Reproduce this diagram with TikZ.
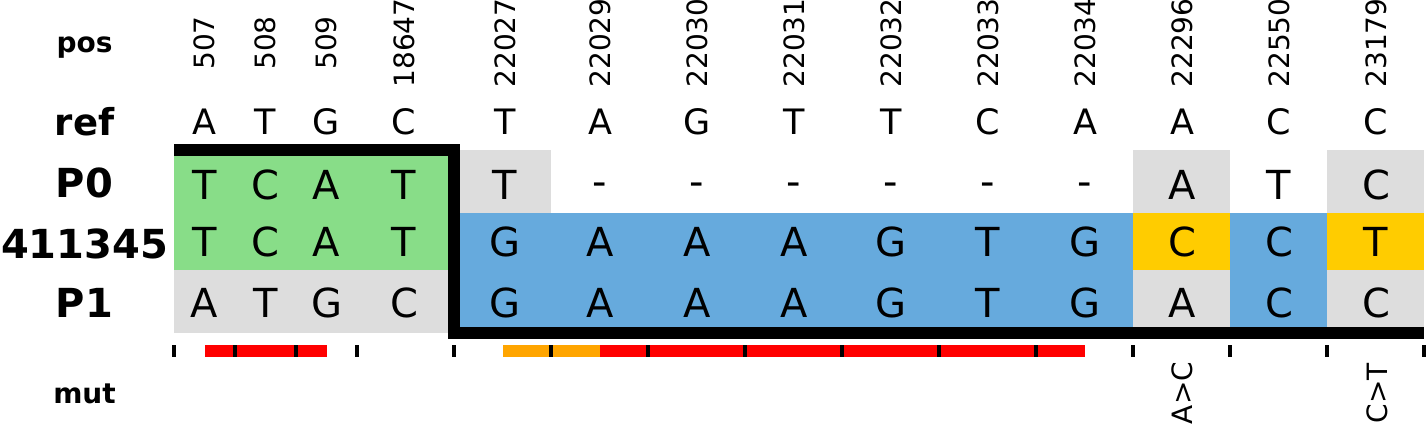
\documentclass[tikz,border=0pt]{standalone}
\usepackage{fontspec}
\setmainfont{DejaVu Sans}
\definecolor{cgreen}{RGB}{136,221,136}
\definecolor{cgrey}{RGB}{221,221,221}
\definecolor{cblue}{RGB}{102,170,221}
\definecolor{cyellow}{RGB}{255,204,0}
\definecolor{corange}{RGB}{255,165,0}
\definecolor{cred}{RGB}{255,0,0}
\newcommand{\gapdash}{\raisebox{4pt}{-}}
\begin{document}
\begin{tikzpicture}[x=1pt,y=-1pt,
  rowlabel/.style={font=\fontsize{40}{40}\selectfont\bfseries, anchor=base, inner sep=0pt},
  hdlabel/.style={font=\fontsize{28}{28}\selectfont\bfseries, anchor=base, inner sep=0pt},
  reflet/.style={font=\fontsize{35}{35}\selectfont, anchor=base, inner sep=0pt},
  celllet/.style={font=\fontsize{40}{40}\selectfont, anchor=base, inner sep=0pt},
  poslabel/.style={font=\fontsize{28}{28}\selectfont, rotate=90, anchor=center, inner sep=0pt},
  mutlabel/.style={font=\fontsize{28}{28}\selectfont, rotate=90, anchor=center, inner sep=0pt},
  sepmark/.style={fill=black},
  outline/.style={draw=black, line width=12pt, line join=miter}
]
\useasboundingbox (0,0) rectangle (1426,423);

% cell fills
\fill[cgreen] (174,150) rectangle (454,270);
\fill[cgrey]  (174,270) rectangle (454,333);
\fill[cgrey]  (454,150) rectangle (551,213);
\fill[cblue]  (454,213) rectangle (1133,333);
\fill[cgrey]  (1133,150) rectangle (1230,213);
\fill[cyellow](1133,213) rectangle (1230,269.5);
\fill[cgrey]  (1133,269.5) rectangle (1230,333);
\fill[cblue]  (1230,213) rectangle (1327,333);
\fill[cgrey]  (1327,150) rectangle (1424,213);
\fill[cyellow](1327,213) rectangle (1424,269.5);
\fill[cgrey]  (1327,269.5) rectangle (1424,333);

% thick outline
\coordinate (o1) at (174,150);
\coordinate (o2) at (454,150);
\coordinate (o3) at (454,333);
\coordinate (o4) at (1424,333);
\draw[outline] (o1) -- (o2) -- (o3) -- (o4);

% row labels
\node[hdlabel]  (lpos) at (84.5,52.5) {pos};
\node[rowlabel, font=\fontsize{37}{37}\selectfont\bfseries] (lref) at (84.5,135) {ref};
\node[rowlabel] (lp0)  at (84.5,197) {P0};
\node[rowlabel] (lch)  at (84.5,258) {411345};
\node[rowlabel] (lp1)  at (84.5,317) {P1};
\node[hdlabel]  (lmut) at (84.5,403) {mut};

% columns
\foreach \x/\p/\r/\a/\b/\c [count=\i] in {
  204.5/507/A/T/T/A,
  265.5/508/T/C/C/T,
  326.5/509/G/A/A/G,
  404/18647/C/T/T/C,
  505/22027/T/T/G/G,
  600/22029/A/\gapdash/A/A,
  697/22030/G/\gapdash/A/A,
  794/22031/T/\gapdash/A/A,
  891/22032/T/\gapdash/G/G,
  988/22033/C/\gapdash/T/T,
  1085/22034/A/\gapdash/G/G,
  1182/22296/A/A/C/A,
  1279/22550/C/T/C/C,
  1376/23179/C/C/T/C}{
  \node[poslabel] (pos\i) at (\x,43) {\p};
  \node[reflet]   (ref\i) at (\x,134) {\r};
  \node[celllet]  (pa\i)  at (\x,199) {\a};
  \node[celllet]  (pb\i)  at (\x,256) {\b};
  \node[celllet]  (pc\i)  at (\x,317) {\c};
}

% mutation bars
\fill[cred]    (205,345) rectangle (327,357);
\fill[corange] (503,345) rectangle (600,357);
\fill[cred]    (600,345) rectangle (1085,357);
\foreach \t in {174,235,296,357,454,551,648,745,842,939,1036,1133,1230,1327,1423.5}{
  \fill[sepmark] (\t-2,345) rectangle (\t+2,357);
}

% mutation labels
\node[mutlabel] (m1) at (1182.5,393) {A>C};
\node[mutlabel] (m2) at (1377,393) {C>T};
\end{tikzpicture}
\end{document}
